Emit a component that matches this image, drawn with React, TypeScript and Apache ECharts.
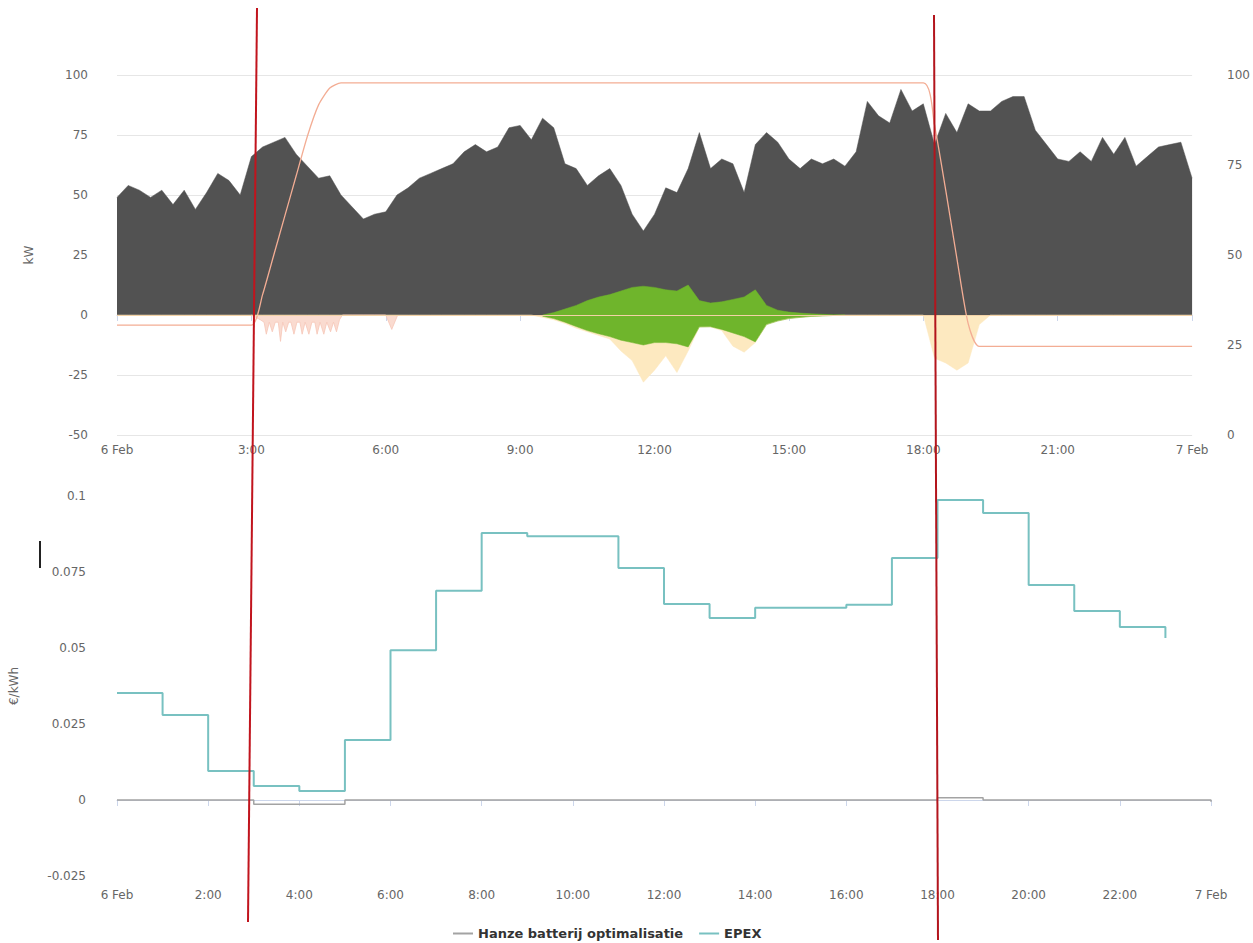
import React, { useEffect, useRef } from "react";
import * as echarts from "echarts";

// ---------- data ----------
const STEP_MIN = 15; // consumption sampling step (minutes)
const DAY_START_LABEL = "6 Feb";
const DAY_END_LABEL = "7 Feb";

// grid consumption (kW), 00:00 .. 24:00 every 15 min (97 values)
const consumption = [
  49, 54, 52, 49, 52, 46, 52, 44, 51, 59, 56, 50,
  66, 70, 72, 74, 67, 62, 57, 58, 50, 45, 40, 42,
  43, 50, 53, 57, 59, 61, 63, 68, 71, 68, 70, 78,
  79, 73, 82, 78, 63, 61, 54, 58, 61, 54, 42, 35,
  42, 53, 51, 61, 76, 61, 65, 63, 51, 71, 76, 72,
  65, 61, 65, 63, 65, 62, 68, 89, 83, 80, 94, 85,
  88, 71, 84, 76, 88, 85, 85, 89, 91, 91, 77, 71,
  65, 64, 68, 64, 74, 67, 74, 62, 66, 70, 71, 72,
  57,
];

// solar (kW), starting at index 38 (09:30), 15-min steps
const SOLAR_START_INDEX = 38;
const solarUp = [
  0, 1, 2.5, 4, 6, 7.5, 8.5, 10, 11.5, 12, 11.5, 10.5, 10, 12.5,
  6, 5, 5.5, 6.5, 7.5, 10.5, 4, 2, 1.2, 0.8, 0.5, 0.3, 0.1, 0,
];
const solarDown = [
  -0.5, -1.5, -3, -4.8, -6.5, -7.8, -9, -10.5, -11.5, -12.5, -11.5, -11.5, -12, -13.3,
  -5, -4.9, -6, -7.5, -9, -11.2, -4, -2.5, -1.5, -1, -0.6, -0.4, -0.2, 0,
];

// battery flow (kW), 00:00 .. 24:00 every 15 min (97 values)
const batteryFlow = [
  0, 0, 0, 0, 0, 0, 0, 0, 0, 0, 0, 0,
  0, 0, 0, 0, 0, 0, 0, 0, 0, 0, 0, 0,
  0, 0, 0, 0, 0, 0, 0, 0, 0, 0, 0, 0,
  0, 0, -1, -2, -3.5, -5.5, -7, -8.5, -10, -15, -19, -28,
  -23, -17, -24, -15, -5, -5, -6.5, -13, -15.5, -11.5, -4, -2.5,
  -1.5, -1, -0.6, -0.4, -0.2, 0, 0, 0, 0, 0, 0, 0,
  0, -18, -20, -23, -20, -4, 0, 0, 0, 0, 0, 0,
  0, 0, 0, 0, 0, 0, 0, 0, 0, 0, 0, 0,
  0,
];

// charging pulses (minutes, kW)
const pulseTimes = [
  180, 192, 197, 200, 204, 208, 212, 216, 219, 222, 226, 230, 233, 237, 241, 245,
  248, 252, 257, 261, 265, 268, 272, 277, 281, 286, 290, 294, 298, 302,
  360, 368, 376,
];
const pulseValues = [
  0, -2, -3, -8, -3, -7, -3, -3, -11, -3, -7, -3, -3, -8, -3, -3,
  -8, -3, -8, -3, -3, -8, -3, -8, -3, -7, -3, -7, -2, 0,
  0, -6, 0,
];

// battery state of charge (%), right axis
const socTimes = [0, 180, 195, 210, 225, 240, 255, 270, 285, 300, 1080, 1095, 1110, 1125, 1140, 1155, 1440];
const socValues = [30.5, 30.5, 39, 50, 61, 72, 83, 91.7, 96.4, 97.8, 97.8, 86, 68, 49, 31, 24.6, 24.6];

// prices (€/kWh), hourly
const epexHours = [0, 1, 2, 3, 4, 5, 6, 7, 8, 9, 10, 11, 12, 13, 14, 15, 16, 17, 18, 19, 20, 21, 22, 23];
const epexValues = [
  0.0352, 0.028, 0.0095, 0.0046, 0.003, 0.0197, 0.0493, 0.0688, 0.0878, 0.0868, 0.0868, 0.0763,
  0.0645, 0.0599, 0.0632, 0.0632, 0.0642, 0.0796, 0.0987, 0.0944, 0.0707, 0.0622, 0.0569, 0.0533,
];
const hanzeHours = [0, 1, 2, 3, 4, 5, 6, 7, 8, 9, 10, 11, 12, 13, 14, 15, 16, 17, 18, 19, 20, 21, 22, 23, 24];
const hanzeValues = [
  0, 0, 0, -0.0014, -0.0014, 0, 0, 0, 0, 0, 0, 0,
  0, 0, 0, 0, 0, 0, 0.0007, 0, 0, 0, 0, 0, -0.0006,
];

const SERIES_HANZE = "Hanze batterij optimalisatie";
const SERIES_EPEX = "EPEX";

// ---------- helpers ----------
const timeLabel = (v: number) => {
  if (v === 0) return DAY_START_LABEL;
  if (v === 1440) return DAY_END_LABEL;
  return `${Math.round(v / 60)}:00`;
};

const FONT = "DejaVu Sans";
const LABEL = { color: "#666666", fontSize: 12, fontFamily: FONT };

export default function App() {
  const ref = useRef<HTMLDivElement>(null);

  useEffect(() => {
    if (!ref.current) return;
    const chart = echarts.init(ref.current, undefined, { renderer: "svg" });

    const consumptionData = consumption.map((v, i) => [i * STEP_MIN, v]);
    const solarUpData = solarUp.map((v, i) => [(SOLAR_START_INDEX + i) * STEP_MIN, v]);
    const solarDownData = solarDown.map((v, i) => [(SOLAR_START_INDEX + i) * STEP_MIN, v]);
    const batteryData = batteryFlow.map((v, i) => [i * STEP_MIN, v]);
    const pulseData = pulseTimes.map((t, i) => [t, pulseValues[i]]);
    const socData = socTimes.map((t, i) => [t, socValues[i]]);
    const epexData = epexHours.map((h, i) => [h * 60, epexValues[i]]);
    const hanzeData = hanzeHours.map((h, i) => [h * 60, hanzeValues[i]]);

    const xCommon = {
      type: "value" as const,
      min: 0,
      max: 1440,
      axisLine: { show: true, lineStyle: { color: "#ccd6eb" } },
      axisTick: { show: true, length: 6, lineStyle: { color: "#ccd6eb" } },
      splitLine: { show: false },
    };

    chart.setOption({
      animation: false,
      backgroundColor: "#ffffff",
      textStyle: { fontFamily: FONT },
      grid: [
        { left: 117, right: 55, top: 75, height: 360 },
        { left: 114, right: 42, top: 496, height: 380 },
      ],
      xAxis: [
        { ...xCommon, gridIndex: 0, interval: 180, axisLabel: { ...LABEL, formatter: timeLabel, margin: 9 } },
        { ...xCommon, gridIndex: 1, interval: 120, axisLabel: { ...LABEL, formatter: timeLabel, margin: 13 } },
      ],
      yAxis: [
        {
          type: "value",
          gridIndex: 0,
          position: "left",
          min: -50,
          max: 100,
          interval: 25,
          name: "kW",
          nameLocation: "middle",
          nameGap: 82,
          nameTextStyle: { color: "#666666", fontSize: 12, fontFamily: FONT },
          axisLine: { show: false },
          axisTick: { show: false },
          axisLabel: { ...LABEL, margin: 29 },
          splitLine: { show: true, lineStyle: { color: "#e6e6e6", width: 1 } },
        },
        {
          type: "value",
          gridIndex: 0,
          position: "right",
          min: 0,
          max: 100,
          interval: 25,
          axisLine: { show: false },
          axisTick: { show: false },
          axisLabel: { ...LABEL, margin: 35 },
          splitLine: { show: false },
        },
        {
          type: "value",
          gridIndex: 1,
          position: "left",
          min: -0.025,
          max: 0.1,
          interval: 0.025,
          name: "€/kWh",
          nameLocation: "middle",
          nameGap: 97,
          nameTextStyle: { color: "#666666", fontSize: 12, fontFamily: FONT },
          axisLine: { show: false },
          axisTick: { show: false },
          axisLabel: { ...LABEL, margin: 31 },
          splitLine: { show: false },
        },
      ],
      legend: {
        data: [SERIES_HANZE, SERIES_EPEX],
        left: 453,
        top: 926,
        padding: 0,
        icon: "rect",
        itemWidth: 20,
        itemHeight: 2,
        itemGap: 16,
        textStyle: { color: "#333333", fontSize: 13, fontWeight: "bold", fontFamily: FONT, lineHeight: 15 },
      },
      series: [
        {
          name: "Verbruik",
          type: "line",
          xAxisIndex: 0,
          yAxisIndex: 0,
          data: consumptionData,
          showSymbol: false,
          lineStyle: { width: 0.5, color: "#525252" },
          itemStyle: { color: "#525252" },
          areaStyle: { color: "#525252", opacity: 1 },
        },
        {
          name: "Zon",
          type: "line",
          xAxisIndex: 0,
          yAxisIndex: 0,
          data: solarUpData,
          showSymbol: false,
          lineStyle: { width: 0.5, color: "#6fb52c" },
          itemStyle: { color: "#6fb52c" },
          areaStyle: { color: "#6fb52c", opacity: 1 },
        },
        {
          name: "Batterij",
          type: "line",
          xAxisIndex: 0,
          yAxisIndex: 0,
          data: batteryData,
          showSymbol: false,
          lineStyle: { width: 0.5, color: "#fde9c0" },
          itemStyle: { color: "#fde9c0" },
          areaStyle: { color: "#fde9c0", opacity: 1 },
        },
        {
          name: "Laden",
          type: "line",
          xAxisIndex: 0,
          yAxisIndex: 0,
          data: pulseData,
          showSymbol: false,
          lineStyle: { width: 0.8, color: "#f6c7b8" },
          itemStyle: { color: "#f6c7b8" },
          areaStyle: { color: "#fadbd0", opacity: 1 },
        },
        {
          name: "Zon teruglevering",
          type: "line",
          xAxisIndex: 0,
          yAxisIndex: 0,
          data: solarDownData,
          showSymbol: false,
          lineStyle: { width: 0.5, color: "#6fb52c" },
          itemStyle: { color: "#6fb52c" },
          areaStyle: { color: "#6fb52c", opacity: 1 },
          markLine: {
            silent: true,
            symbol: "none",
            label: { show: false },
            lineStyle: { color: "#f3d2a6", width: 1, type: "solid" },
            data: [{ yAxis: 0 }],
          },
        },
        {
          name: "SoC",
          type: "line",
          xAxisIndex: 0,
          yAxisIndex: 1,
          data: socData,
          showSymbol: false,
          smooth: 0.2,
          lineStyle: { width: 1.3, color: "#f3ad94" },
          itemStyle: { color: "#f3ad94" },
        },
        {
          name: SERIES_HANZE,
          type: "line",
          xAxisIndex: 1,
          yAxisIndex: 2,
          step: "end",
          data: hanzeData,
          showSymbol: false,
          lineStyle: { width: 1.5, color: "#a3a3a3" },
          itemStyle: { color: "#a3a3a3" },
        },
        {
          name: SERIES_EPEX,
          type: "line",
          xAxisIndex: 1,
          yAxisIndex: 2,
          step: "end",
          data: epexData,
          showSymbol: false,
          lineStyle: { width: 2, color: "#78c1c1" },
          itemStyle: { color: "#78c1c1" },
        },
      ],
      graphic: [
        {
          type: "line",
          z: 100,
          shape: { x1: 257, y1: 8, x2: 248, y2: 922 },
          style: { stroke: "#c1141d", lineWidth: 2 },
        },
        {
          type: "line",
          z: 100,
          shape: { x1: 934, y1: 15, x2: 938, y2: 940 },
          style: { stroke: "#b3151d", lineWidth: 2 },
        },
        {
          type: "line",
          z: 100,
          shape: { x1: 40, y1: 541, x2: 40, y2: 568 },
          style: { stroke: "#222222", lineWidth: 2 },
        },
      ],
    });

    return () => chart.dispose();
  }, []);

  return (
    <div
      ref={ref}
      style={{ position: "fixed", left: 0, top: 0, width: 1253, height: 943, background: "#fff" }}
    />
  );
}
